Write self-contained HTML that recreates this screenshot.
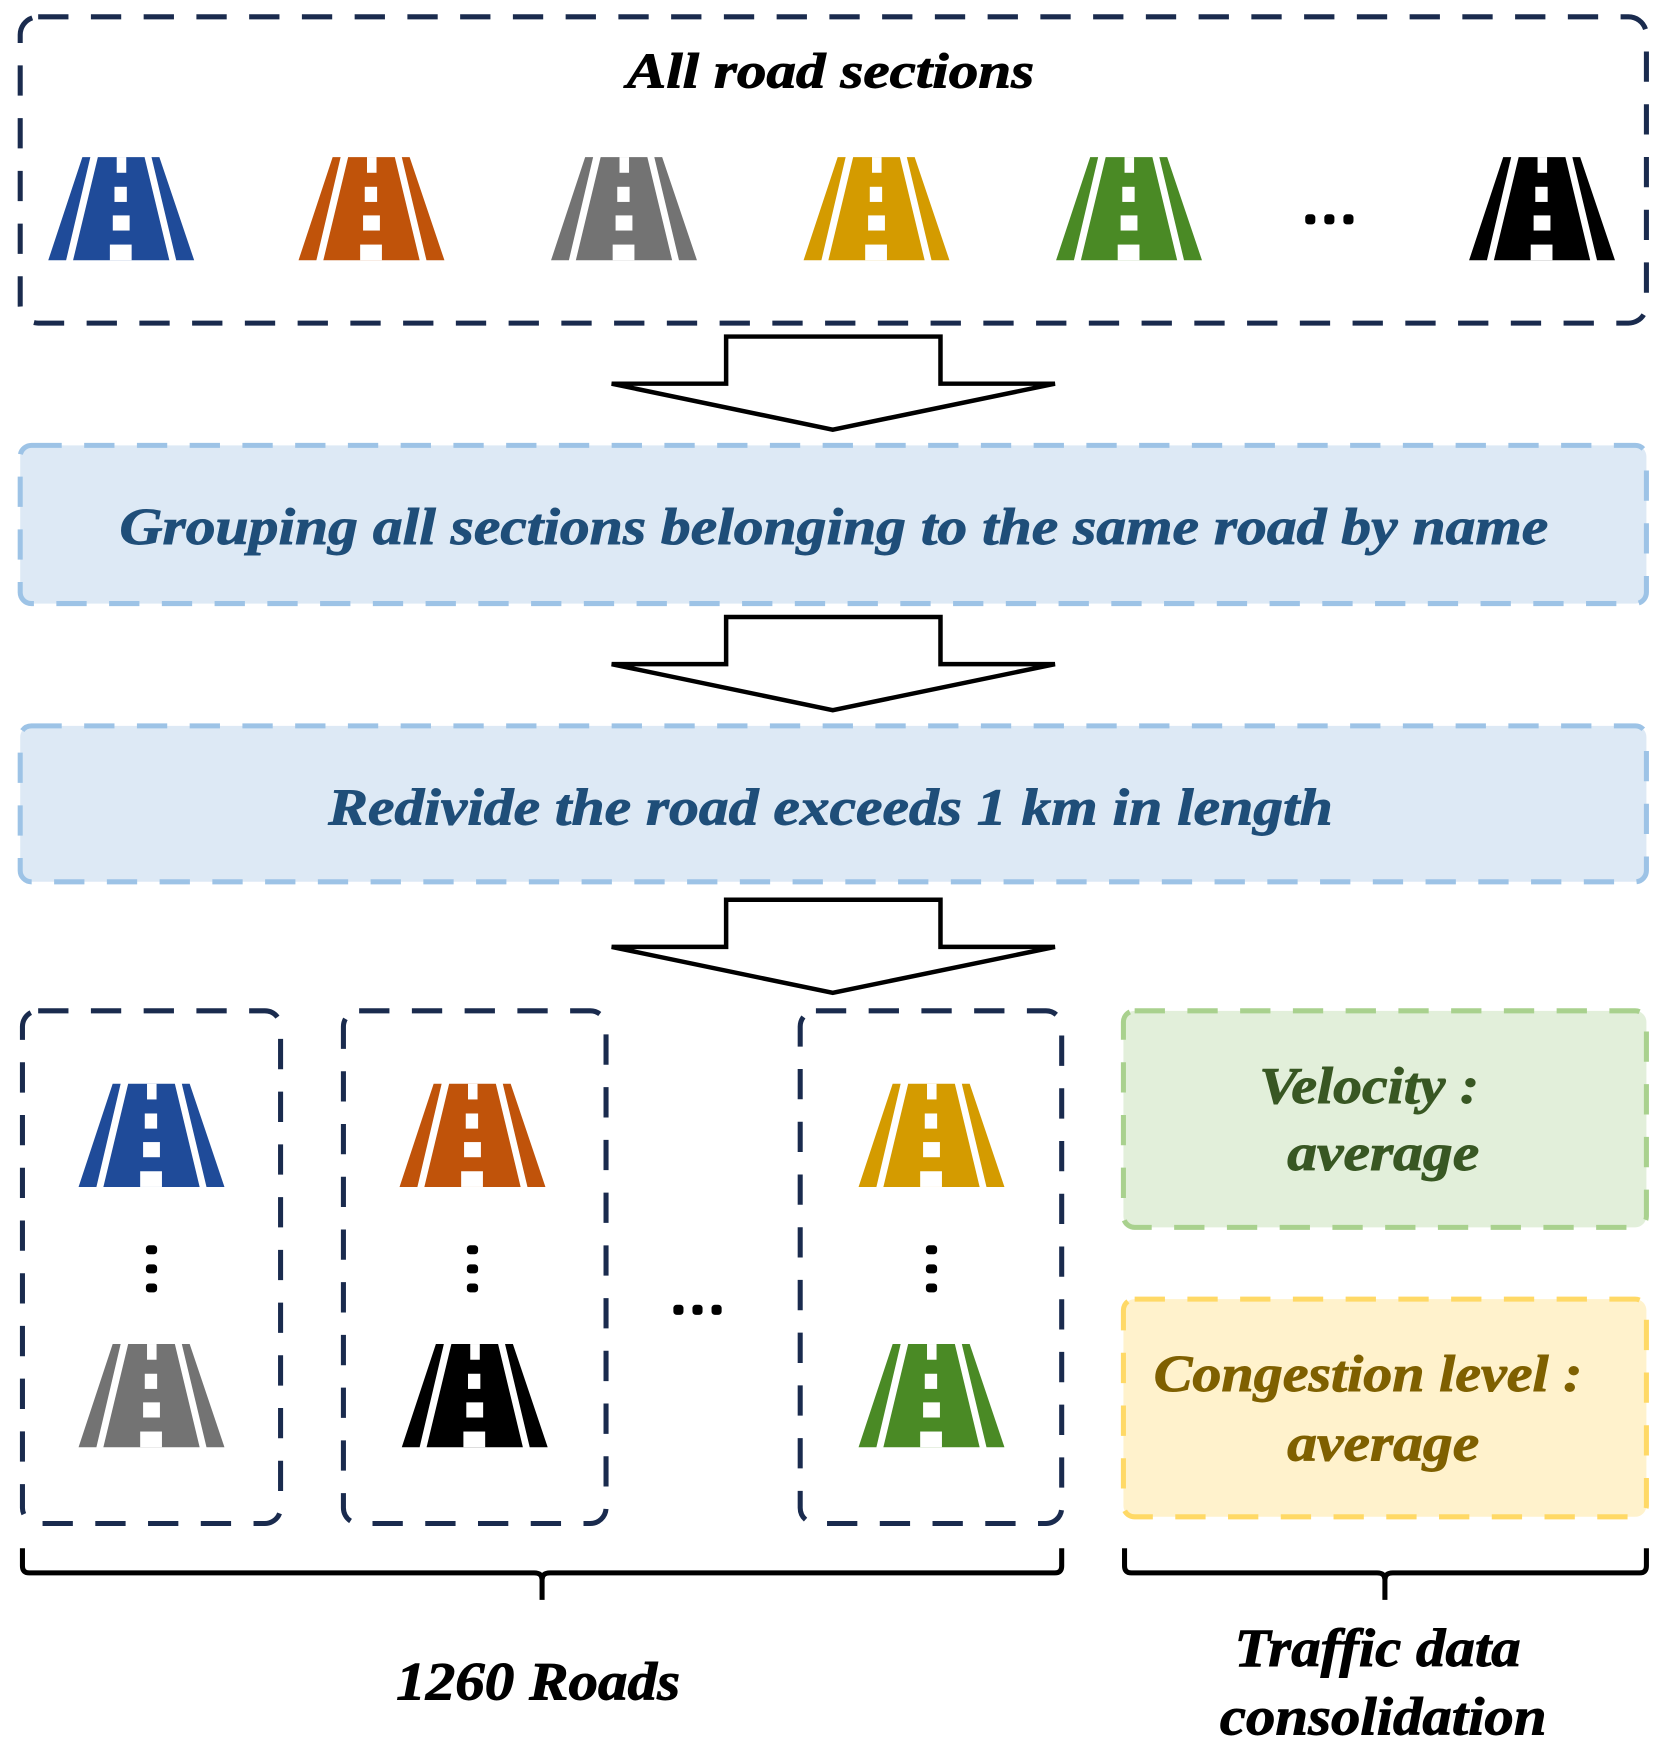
<!DOCTYPE html>
<html><head><meta charset="utf-8"><style>
html,body{margin:0;padding:0;background:#fff;}
svg{display:block;}
text{font-family:"Liberation Serif",serif;font-weight:bold;font-style:italic;stroke-width:0.8;}
</style></head><body>
<svg width="1661" height="1758" viewBox="0 0 1480 1567" preserveAspectRatio="none">
<defs>
<g id="road">
<polygon points="30.4,0 37.5,0 15.9,92 0,92"/>
<polygon points="44.2,0 85.8,0 107.9,92 22.1,92"/>
<polygon points="92,0 99,0 130,92 114,92"/>
<g fill="#fff">
<rect x="61" y="0" width="8.5" height="14"/>
<rect x="59" y="26.5" width="11" height="13.5"/>
<rect x="57.5" y="52" width="15" height="13.5"/>
<rect x="54.9" y="78" width="19.4" height="14"/>
</g>
</g>
<g id="arrow">
<polygon points="647,0 838,0 838,42 940,42 742,83 545,42 647,42" fill="#fff" stroke="#000" stroke-width="4" stroke-linejoin="miter"/>
</g>
</defs>

<rect x="18" y="15" width="1449" height="273" rx="16" fill="none" stroke="#1a2b4e" stroke-width="4.5" stroke-dasharray="27,20"/>
<text x="740" y="78" font-size="44" text-anchor="middle" stroke="#000" textLength="363" lengthAdjust="spacingAndGlyphs">All road sections</text>
<use href="#road" x="43" y="140" fill="#1f4b99"/>
<use href="#road" x="266" y="140" fill="#c0530a"/>
<use href="#road" x="491" y="140" fill="#737373"/>
<use href="#road" x="716" y="140" fill="#d49b00"/>
<use href="#road" x="941" y="140" fill="#4a8a25"/>
<use href="#road" x="1309" y="140" fill="#000"/>
<g fill="#000">
<rect x="1163" y="191" width="9" height="9" rx="3"/><rect x="1180" y="191" width="9" height="9" rx="3"/><rect x="1197" y="191" width="9" height="9" rx="3"/>
</g>

<use href="#arrow" y="300"/>

<rect x="18" y="397" width="1449" height="141" rx="10" fill="#dde9f5" stroke="#9dc3e6" stroke-width="4.5" stroke-dasharray="27,20"/>
<text x="743" y="485" font-size="46" fill="#1f4e79" stroke="#1f4e79" text-anchor="middle" textLength="1273" lengthAdjust="spacingAndGlyphs">Grouping all sections belonging to the same road by name</text>

<use href="#arrow" y="550"/>

<rect x="18" y="647" width="1449" height="139" rx="10" fill="#dde9f5" stroke="#9dc3e6" stroke-width="4.5" stroke-dasharray="27,20"/>
<text x="740" y="735" font-size="46" fill="#1f4e79" stroke="#1f4e79" text-anchor="middle" textLength="895" lengthAdjust="spacingAndGlyphs">Redivide the road exceeds 1 km in length</text>

<use href="#arrow" y="802"/>

<rect x="20" y="901" width="230" height="457" rx="14" fill="none" stroke="#1a2b4e" stroke-width="4.5" stroke-dasharray="27,20"/>
<rect x="306" y="901" width="234" height="457" rx="14" fill="none" stroke="#1a2b4e" stroke-width="4.5" stroke-dasharray="27,20"/>
<rect x="713" y="901" width="233" height="457" rx="14" fill="none" stroke="#1a2b4e" stroke-width="4.5" stroke-dasharray="27,20"/>

<use href="#road" x="70" y="966" fill="#1f4b99"/>
<use href="#road" x="70" y="1198" fill="#737373"/>
<use href="#road" x="356" y="966" fill="#c0530a"/>
<use href="#road" x="358" y="1198" fill="#000"/>
<use href="#road" x="765" y="966" fill="#d49b00"/>
<use href="#road" x="765" y="1198" fill="#4a8a25"/>

<g fill="#000">
<rect x="130" y="1110" width="10" height="8" rx="3"/><rect x="130" y="1127" width="10" height="8" rx="3"/><rect x="130" y="1144" width="10" height="8" rx="3"/>
<rect x="416" y="1110" width="10" height="8" rx="3"/><rect x="416" y="1127" width="10" height="8" rx="3"/><rect x="416" y="1144" width="10" height="8" rx="3"/>
<rect x="825" y="1110" width="10" height="8" rx="3"/><rect x="825" y="1127" width="10" height="8" rx="3"/><rect x="825" y="1144" width="10" height="8" rx="3"/>
</g>
<g fill="#000">
<rect x="600" y="1163" width="9" height="9" rx="3"/><rect x="617" y="1163" width="9" height="9" rx="3"/><rect x="634" y="1163" width="9" height="9" rx="3"/>
</g>

<rect x="1001" y="901" width="466" height="193" rx="10" fill="#e2efda" stroke="#a9d18e" stroke-width="4.5" stroke-dasharray="27,20"/>
<text x="1122" y="983" font-size="46" fill="#385723" stroke="#385723" textLength="196" lengthAdjust="spacingAndGlyphs">Velocity :</text>
<text x="1147" y="1043" font-size="46" fill="#385723" stroke="#385723" textLength="171" lengthAdjust="spacingAndGlyphs">average</text>

<rect x="1001" y="1158" width="466" height="194" rx="10" fill="#fff2cc" stroke="#ffd966" stroke-width="4.5" stroke-dasharray="27,20"/>
<text x="1028" y="1240" font-size="46" fill="#7f6000" stroke="#7f6000" textLength="382" lengthAdjust="spacingAndGlyphs">Congestion level :</text>
<text x="1147" y="1302" font-size="46" fill="#7f6000" stroke="#7f6000" textLength="171" lengthAdjust="spacingAndGlyphs">average</text>

<path d="M20,1380 V1396 Q20,1402 26,1402 H476 Q483,1402 483,1408 V1426 M483,1408 Q483,1402 490,1402 H940 Q946,1402 946,1396 V1380" fill="none" stroke="#000" stroke-width="4.5"/>
<path d="M1002,1380 V1396 Q1002,1402 1008,1402 H1227 Q1234,1402 1234,1408 V1426 M1234,1408 Q1234,1402 1241,1402 H1461 Q1467,1402 1467,1396 V1380" fill="none" stroke="#000" stroke-width="4.5"/>

<text x="353" y="1515" font-size="48" fill="#000" stroke="#000" textLength="253" lengthAdjust="spacingAndGlyphs">1260 Roads</text>
<text x="1100" y="1485" font-size="48" fill="#000" stroke="#000" textLength="255" lengthAdjust="spacingAndGlyphs">Traffic data</text>
<text x="1087" y="1546" font-size="48" fill="#000" stroke="#000" textLength="291" lengthAdjust="spacingAndGlyphs">consolidation</text>
</svg>
</body></html>
